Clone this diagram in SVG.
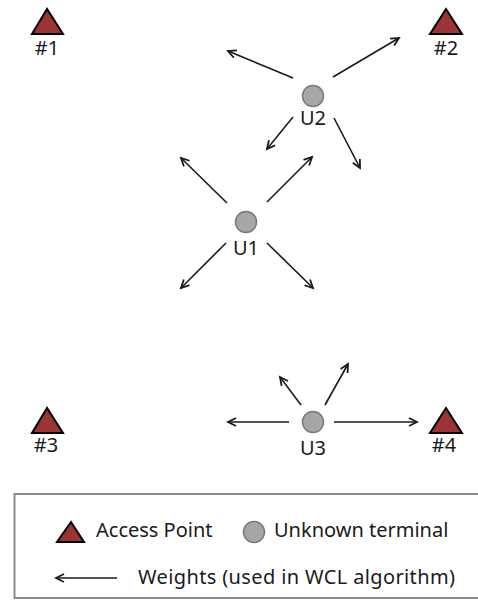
<svg xmlns="http://www.w3.org/2000/svg" width="478" height="600" viewBox="0 0 478 600">
<style>
.ap{fill:#9b3434;stroke:#000;stroke-width:2;stroke-linejoin:miter}
.ut{fill:#a6a6a6;stroke:#7a7a7a;stroke-width:1.5}
.lbl{font-family:"Noto Sans","Open Sans",sans-serif;font-size:20px;fill:#1a1a1a;text-anchor:middle}
.leg{font-family:"Noto Sans","Open Sans",sans-serif;font-size:20px;fill:#1a1a1a}
.w{stroke:#1a1a1a;stroke-width:1.6;fill:none;marker-end:url(#ah)}
</style>
<defs>
<marker id="ah" markerWidth="12" markerHeight="12" refX="9" refY="5" orient="auto" markerUnits="userSpaceOnUse">
<path d="M1,1 L9,5 L1,9" fill="none" stroke="#1a1a1a" stroke-width="1.8"/>
</marker>
</defs>
<rect width="478" height="600" fill="#fff"/>
<g id="ap1"><polygon class="ap" points="47,9 32,34 63,34"/><text class="lbl" x="47" y="55">#1</text></g>
<g id="ap2"><polygon class="ap" points="446,9 430,34 462,34"/><text class="lbl" x="446" y="55">#2</text></g>
<g id="ap3"><polygon class="ap" points="47,408 32,433 63,433"/><text class="lbl" x="46" y="452">#3</text></g>
<g id="ap4"><polygon class="ap" points="446,408 430,433 462,433"/><text class="lbl" x="444" y="452">#4</text></g>
<g id="u2"><circle class="ut" cx="313" cy="96" r="10.5"/><text class="lbl" x="313" y="125">U2</text></g>
<g id="u1"><circle class="ut" cx="246" cy="222" r="10.5"/><text class="lbl" x="246" y="255">U1</text></g>
<g id="u3"><circle class="ut" cx="313" cy="422" r="10.5"/><text class="lbl" x="313" y="455">U3</text></g>
<g id="connectors">
<line class="w" x1="293" y1="78" x2="228" y2="51"/>
<line class="w" x1="333" y1="77" x2="399" y2="38"/>
<line class="w" x1="293" y1="117" x2="267" y2="149"/>
<line class="w" x1="334" y1="118" x2="360" y2="168"/>
<line class="w" x1="227" y1="203" x2="181" y2="158"/>
<line class="w" x1="267" y1="202" x2="312" y2="157"/>
<line class="w" x1="226" y1="243" x2="181" y2="288"/>
<line class="w" x1="267" y1="243" x2="313" y2="288"/>
<line class="w" x1="289" y1="422" x2="228" y2="422"/>
<line class="w" x1="334" y1="422" x2="417" y2="422"/>
<line class="w" x1="301" y1="405" x2="280" y2="377"/>
<line class="w" x1="325" y1="405" x2="348" y2="364"/>
</g>
<g id="legend">
<rect x="14.5" y="494" width="480" height="104" fill="none" stroke="#8a8a8a" stroke-width="2"/>
<polygon class="ap" points="71,522 57,542 84,542"/>
<text class="leg" x="96" y="537">Access Point</text>
<circle class="ut" cx="254" cy="532" r="10.5"/>
<text class="leg" x="274" y="537">Unknown terminal</text>
<line class="w" x1="117" y1="578" x2="56" y2="578"/>
<text class="leg" x="138" y="584" textLength="317" lengthAdjust="spacing">Weights (used in WCL algorithm)</text>
</g>
</svg>
